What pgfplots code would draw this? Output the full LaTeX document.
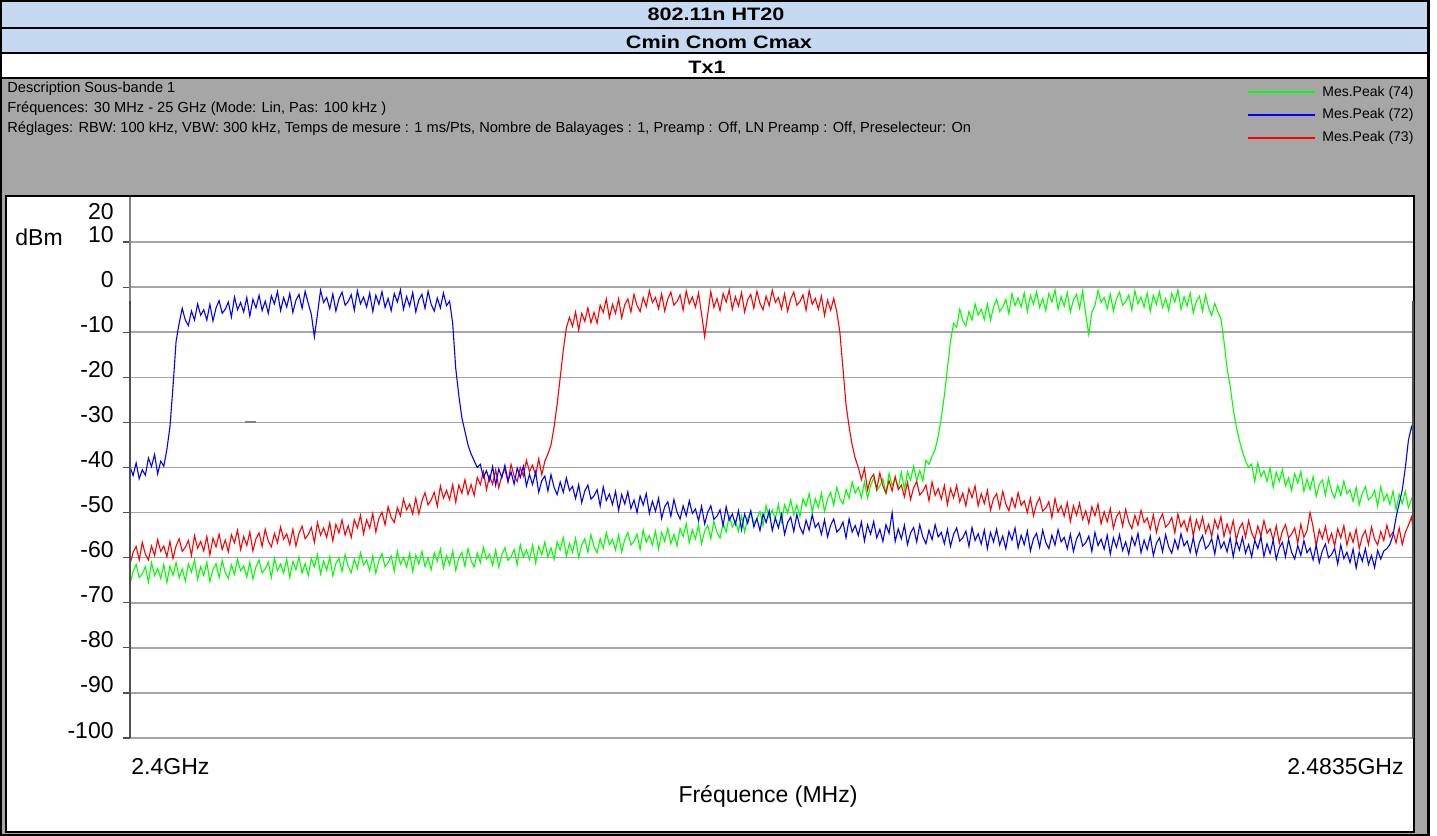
\documentclass[border=0pt]{standalone}
\usepackage{pgfplots}
\pgfplotsset{compat=1.18}
\usepackage{pgfplotstable}
\usepackage{graphicx}
\usepackage{fontspec}
\setmainfont{Liberation Sans}
\definecolor{hdrblue}{RGB}{197,217,241}
\definecolor{panelgray}{RGB}{166,166,166}
\definecolor{gridgray}{RGB}{165,165,165}
\definecolor{axisgray}{RGB}{128,128,128}
\definecolor{tickgray}{RGB}{80,80,80}
\definecolor{cgreen}{RGB}{0,255,0}
\definecolor{cblue}{RGB}{0,0,255}
\definecolor{cred}{RGB}{255,0,0}
\pgfplotstableread{
d b r g
0.0 -39.8 -61.5 -65.8
0.2 -41.8 -58.8 -63.1
0.4 -39 -57.5 -61.5
0.6 -42.5 -60.5 -64.4
0.8 -40.5 -56.6 -63.6
1.0 -41.7 -59.2 -62.0
1.2 -37.9 -60.5 -65.4
1.4 -39.8 -57.4 -61.1
1.6 -37.1 -59.5 -64.0
1.8 -41.4 -56.0 -62.4
2.0 -38.6 -58.6 -64.6
2.2 -39.7 -57.4 -61.5
2.4 -36 -59.8 -65.5
2.6 -31 -56.4 -61.9
2.8 -22 -60.2 -63.9
3.0 -12 -57.4 -61.1
3.2 -8 -55.8 -64.5
3.4 -4.7 -58.6 -62.5
3.6 -7.3 -57.7 -65.2
3.8 -8.5 -56.2 -61.4
4.0 -5.3 -59.5 -63.2
4.2 -7.3 -55.1 -60.5
4.4 -3.7 -57.9 -64.8
4.6 -6.2 -56.4 -62.0
4.8 -5.0 -58.5 -64.0
5.0 -7.3 -55.3 -61.0
5.2 -3.8 -59.4 -65.3
5.4 -7.5 -55.7 -62.6
5.6 -4.6 -57.6 -61.3
5.8 -3.0 -54.8 -64.4
6.0 -5.8 -58.2 -60.6
6.2 -4.9 -56.1 -63.3
6.4 -3.3 -58.7 -64.6
6.6 -6.6 -54.9 -61.6
6.8 -2.2 -56.7 -63.7
7.0 -5.0 -53.9 -60.3
7.2 -3.4 -58.2 -62.9
7.4 -5.5 -55.3 -61.8
7.6 -2.3 -57.3 -64.3
7.8 -6.4 -54.3 -61.0
8.0 -2.7 -58.5 -64.7
8.2 -4.6 -55.8 -62.0
8.4 -1.8 -54.5 -60.5
8.6 -5.2 -57.5 -63.4
8.8 -3.1 -53.7 -62.5
9.0 -5.8 -56.3 -61.0
9.2 -1.9 -57.6 -64.4
9.4 -3.7 -54.6 -60.1
9.6 -1.0 -56.7 -62.9
9.8 -5.2 -53.2 -61.4
10.0 -2.3 -55.9 -63.4
10.2 -4.4 -54.7 -60.3
10.4 -1.4 -57.1 -64.4
10.6 -5.6 -53.7 -60.8
10.8 -2.9 -57.4 -62.7
11.0 -1.6 -54.6 -59.9
11.2 -4.7 -53.0 -63.4
11.4 -0.9 -55.8 -61.3
11.6 -3.6 -54.9 -64.0
11.8 -6 -53.3 -60.2
12.0 -11 -56.6 -62.0
12.2 -6 -52.2 -59.3
12.4 -0.7 -55.0 -63.6
12.6 -3.4 -53.4 -60.7
12.8 -2.3 -55.5 -62.8
13.0 -4.8 -52.3 -59.8
13.2 -1.5 -56.3 -64.0
13.4 -5.3 -52.6 -61.3
13.6 -2.6 -54.5 -60.1
13.8 -1.1 -51.6 -63.1
14.0 -4.0 -55.0 -59.3
14.2 -3.2 -52.9 -62.0
14.4 -1.7 -55.5 -63.3
14.6 -5.1 -51.6 -60.3
14.8 -0.8 -53.4 -62.4
15.0 -3.7 -50.6 -58.9
15.2 -2.2 -54.7 -61.6
15.4 -4.4 -51.6 -60.5
15.6 -1.3 -53.5 -62.9
15.8 -5.4 -50.2 -59.6
16.0 -1.8 -54.3 -63.4
16.2 -3.8 -51.3 -60.6
16.4 -1.0 -49.9 -59.1
16.6 -4.5 -52.7 -62.0
16.8 -2.5 -48.7 -61.1
17.0 -5.2 -51.1 -59.6
17.2 -1.4 -52.2 -63.0
17.4 -3.3 -48.9 -58.6
17.6 -0.6 -50.7 -61.5
17.8 -4.9 -47.0 -60.0
18.0 -2.1 -49.4 -62.1
18.2 -4.2 -48.1 -59.0
18.4 -1.2 -50.3 -63.1
18.6 -5.5 -46.8 -59.4
18.8 -2.8 -50.3 -61.4
19.0 -1.6 -47.4 -58.6
19.2 -4.7 -45.6 -62.0
19.4 -0.9 -48.3 -60.0
19.6 -3.8 -47.2 -62.7
19.8 -5.3 -45.5 -58.9
20.0 -2.4 -48.6 -60.8
20.2 -4.6 -44.1 -58.1
20.4 -1.3 -46.8 -62.3
20.6 -4.1 -45.1 -59.5
20.8 -3.1 -47.1 -61.6
21.0 -8 -43.8 -58.5
21.2 -18 -47.7 -62.8
21.4 -24 -43.9 -60.1
21.6 -29 -45.7 -58.8
21.8 -32 -42.7 -61.9
22.0 -35 -46.0 -58.0
22.2 -37 -43.8 -60.7
22.4 -38.5 -46.2 -62.1
22.6 -40 -42.2 -59.0
22.8 -39.3 -43.8 -61.1
23.0 -42.2 -40.9 -57.7
23.2 -40.7 -44.9 -60.3
23.4 -42.9 -41.9 -59.2
23.6 -39.8 -43.7 -61.7
23.8 -43.9 -40.5 -58.3
24.0 -40.3 -44.5 -62.1
24.2 -42.3 -41.7 -59.4
24.4 -39.5 -40.3 -57.8
24.6 -43.0 -43.3 -60.6
24.8 -41.0 -39.3 -59.8
25.0 -43.7 -41.9 -58.2
25.2 -40.1 -43.1 -61.5
25.4 -42.2 -40.0 -57.1
25.6 -39.7 -41.9 -59.9
25.8 -44.1 -38.4 -58.3
26.0 -41.5 -40.9 -60.4
26.2 -43.8 -39.5 -57.2
26.4 -41.0 -41.7 -61.2
26.6 -45.5 -38.1 -57.5
26.8 -42.9 -41.6 -59.4
27.0 -41.9 -38.6 -56.5
27.2 -45.2 -37 -59.9
27.4 -41.6 -35 -57.8
27.6 -44.4 -31 -60.4
27.8 -46.0 -26 -56.5
28.0 -43.2 -20 -58.3
28.2 -45.5 -14 -55.5
28.4 -42.3 -9 -59.7
28.6 -45.1 -6.7 -56.8
28.8 -44.2 -8.7 -58.8
29.0 -46.9 -5.5 -55.7
29.2 -43.8 -9.5 -59.9
29.4 -47.8 -5.8 -57.1
29.6 -45.2 -7.6 -55.8
29.8 -43.9 -4.6 -58.8
30.0 -47.0 -7.9 -54.9
30.2 -46.3 -5.6 -57.6
30.4 -44.9 -8.0 -58.9
30.6 -48.5 -4.0 -55.8
30.8 -44.3 -5.6 -57.9
31.0 -47.3 -2.6 -54.4
31.2 -45.9 -6.8 -57.1
31.4 -48.2 -3.8 -55.9
31.6 -45.3 -5.8 -58.3
31.8 -49.5 -2.6 -55.0
32.0 -46.0 -6.8 -58.7
32.2 -48.1 -3.9 -56.0
32.4 -45.4 -2.6 -54.4
32.6 -49.1 -5.5 -57.2
32.8 -47.2 -1.6 -56.4
33.0 -50.0 -4.1 -54.8
33.2 -46.3 -5.4 -58.2
33.4 -48.3 -2.3 -53.8
33.6 -45.8 -4.3 -56.6
33.8 -50.2 -0.8 -55.1
34.0 -47.5 -3.4 -57.2
34.2 -49.7 -2.3 -54.1
34.4 -46.8 -4.8 -58.1
34.6 -51.3 -1.5 -54.4
34.8 -48.7 -5.3 -56.4
35.0 -47.6 -2.6 -53.5
35.2 -50.8 -1.1 -56.9
35.4 -47.1 -4.0 -54.8
35.6 -49.9 -3.2 -57.4
35.8 -51.4 -1.7 -53.5
36.0 -48.5 -5.1 -55.3
36.2 -50.7 -0.8 -52.5
36.4 -47.4 -3.7 -56.7
36.6 -50.2 -2.2 -53.8
36.8 -49.2 -4.4 -55.8
37.0 -51.8 -1.3 -52.7
37.2 -48.6 -6 -56.9
37.4 -52.5 -11 -54.1
37.6 -49.9 -6 -52.8
37.8 -48.5 -1.0 -55.8
38.0 -51.5 -4.5 -51.9
38.2 -50.8 -2.5 -54.4
38.4 -49.4 -5.2 -55.6
38.6 -52.9 -1.4 -52.4
38.8 -48.7 -3.3 -54.3
39.0 -51.7 -0.6 -50.7
39.2 -50.3 -4.9 -53.2
39.4 -52.6 -2.1 -51.9
39.6 -49.6 -4.2 -54.2
39.8 -53.8 -1.2 -50.7
40.0 -50.3 -5.5 -54.3
40.2 -52.4 -2.8 -51.4
40.4 -49.6 -1.6 -49.7
40.6 -53.2 -4.7 -52.4
40.8 -51.3 -0.9 -51.4
41.0 -54.0 -3.6 -49.7
41.2 -50.3 -5.0 -52.9
41.4 -52.2 -2.0 -48.4
41.6 -49.6 -4.1 -51.1
41.8 -54.0 -0.7 -49.4
42.0 -51.2 -3.4 -51.4
42.2 -53.4 -2.3 -48.2
42.4 -50.4 -4.8 -52.1
42.6 -54.8 -1.5 -48.3
42.8 -52.2 -5.3 -50.1
43.0 -51.0 -2.6 -47.2
43.2 -54.2 -1.1 -50.5
43.4 -50.4 -4.0 -48.3
43.6 -53.2 -3.2 -50.9
43.8 -54.7 -1.7 -46.9
44.0 -51.7 -5.1 -48.6
44.2 -53.9 -0.8 -45.8
44.4 -50.5 -3.8 -49.9
44.6 -53.3 -2.5 -46.9
44.8 -52.3 -4.9 -48.9
45.0 -54.8 -2.0 -45.7
45.2 -51.6 -6.3 -49.8
45.4 -55.4 -2.9 -46.9
45.6 -52.8 -5.1 -45.5
45.8 -51.4 -2.5 -48.4
46.0 -54.3 -5.5 -44.4
46.2 -53.6 -10 -46.9
46.4 -52.1 -18 -48.1
46.6 -55.6 -26 -44.9
46.8 -51.4 -31 -46.8
47.0 -54.3 -35 -43.2
47.2 -52.9 -38 -45.7
47.4 -55.1 -40 -44.4
47.6 -52.1 -42.7 -46.7
47.8 -56.3 -40.2 -43.2
48.0 -52.7 -45.0 -46.8
48.2 -54.8 -42.5 -44.0
48.4 -52.0 -41.5 -42.3
48.6 -55.6 -44.8 -45.1
48.8 -53.7 -41.2 -44.1
49.0 -56.4 -44.1 -42.5
49.2 -52.7 -45.7 -45.7
49.4 -54.6 -42.9 -41.3
49.6 -50.0 -45.2 -44.0
49.8 -56.4 -42.0 -42.4
50.0 -53.6 -44.9 -44.4
50.2 -55.8 -43.9 -41.1
50.4 -52.8 -46.5 -44.9
50.6 -57.1 -43.3 -41.0
50.8 -54.5 -47.1 -42.8
51.0 -53.3 -44.5 -39.7
51.2 -56.5 -43.1 -42.9
51.4 -52.7 -46.1 -40.7
51.6 -55.4 -45.3 -43.0
51.8 -56.9 -43.9 -38.4
52.0 -53.9 -47.4 -39.3
52.2 -56.0 -43.2 -37.5
52.4 -52.7 -46.2 -36
52.6 -55.4 -44.7 -33
52.8 -54.4 -47.0 -29
53.0 -56.9 -44.0 -24
53.2 -53.7 -48.2 -18
53.4 -57.5 -44.7 -12
53.6 -54.8 -46.7 -8
53.8 -53.4 -44.0 -8.9
54.0 -56.3 -47.6 -4.9
54.2 -55.6 -45.7 -7.4
54.4 -54.1 -48.5 -8.6
54.6 -57.5 -44.7 -5.4
54.8 -53.3 -46.7 -7.3
55.0 -56.2 -44.1 -3.7
55.2 -54.7 -48.5 -6.2
55.4 -57.0 -45.8 -4.9
55.6 -53.9 -48.0 -7.2
55.8 -58.0 -45.1 -3.7
56.0 -54.4 -49.5 -7.3
56.2 -56.5 -46.9 -4.4
56.4 -53.7 -45.8 -2.7
56.6 -57.2 -49.0 -5.4
56.8 -55.2 -45.3 -4.4
57.0 -58.0 -48.1 -2.7
57.2 -54.2 -49.6 -5.9
57.4 -56.1 -46.7 -1.4
57.6 -53.4 -48.9 -4.1
57.8 -57.8 -45.6 -2.4
58.0 -55.0 -48.4 -4.4
58.2 -57.1 -47.4 -1.3
58.4 -54.1 -50.0 -5.4
58.6 -58.5 -46.8 -1.8
58.8 -55.8 -50.7 -3.8
59.0 -54.6 -48.1 -1.0
59.2 -57.7 -46.7 -4.5
59.4 -53.9 -49.7 -2.5
59.6 -56.6 -49.0 -5.2
59.8 -58.0 -47.6 -1.4
60.0 -55.0 -51.1 -3.3
60.2 -57.2 -46.9 -0.6
60.4 -53.8 -49.9 -4.9
60.6 -56.5 -48.5 -2.1
60.8 -55.5 -50.8 -4.2
61.0 -58.0 -47.8 -1.2
61.2 -54.8 -52.0 -5.5
61.4 -58.6 -48.5 -2.8
61.6 -55.9 -50.6 -1.6
61.8 -54.5 -47.9 -4.7
62.0 -57.4 -51.5 -0.9
62.2 -56.7 -49.6 -6
62.4 -55.2 -52.4 -10.5
62.6 -58.6 -48.7 -5.5
62.8 -54.4 -50.7 -4.1
63.0 -57.3 -48.1 -0.7
63.2 -55.9 -52.5 -3.4
63.4 -58.1 -49.8 -2.3
63.6 -55.0 -52.0 -4.8
63.8 -59.2 -49.1 -1.5
64.0 -55.6 -53.5 -5.3
64.2 -57.7 -50.9 -2.6
64.4 -54.9 -49.8 -1.1
64.6 -58.4 -53.0 -4.0
64.8 -56.5 -49.3 -3.2
65.0 -59.2 -52.1 -1.7
65.2 -55.4 -53.6 -5.1
65.4 -57.3 -50.6 -0.8
65.6 -54.6 -52.8 -3.7
65.8 -58.9 -49.5 -2.2
66.0 -56.1 -52.2 -4.4
66.2 -58.2 -51.2 -1.3
66.4 -55.2 -53.7 -5.4
66.6 -59.5 -50.5 -1.8
66.8 -56.8 -54.4 -3.8
67.0 -55.6 -51.7 -1.0
67.2 -58.7 -50.3 -4.5
67.4 -54.9 -53.2 -2.5
67.6 -57.6 -52.5 -5.2
67.8 -59.0 -51.1 -1.4
68.0 -56.0 -54.5 -3.3
68.2 -58.1 -50.3 -0.6
68.4 -54.7 -53.2 -4.9
68.6 -57.4 -51.8 -2.1
68.8 -56.3 -54.1 -4.2
69.0 -58.8 -51.0 -1.3
69.2 -55.5 -55.2 -5.7
69.4 -59.3 -51.6 -3.1
69.6 -56.6 -53.7 -2.0
69.8 -55.1 -51.0 -5.3
70.0 -58.0 -54.5 -1.7
70.2 -57.3 -52.6 -4.6
70.4 -55.8 -55.3 -6.3
70.6 -59.2 -51.6 -3.6
70.8 -55.0 -53.6 -5.5
71.0 -57.9 -50.9 -7
71.2 -56.5 -55.3 -12
71.4 -58.7 -52.5 -18
71.6 -55.6 -54.7 -22
71.8 -59.8 -51.8 -27
72.0 -56.2 -56.1 -31
72.2 -58.3 -53.5 -34
72.4 -55.5 -52.3 -36.5
72.6 -59.0 -55.5 -38.5
72.8 -57.1 -51.8 -40
73.0 -59.8 -54.5 -39.2
73.2 -56.1 -56.0 -43.1
73.4 -58.0 -53.0 -39.0
73.6 -55.3 -55.2 -42.0
73.8 -59.7 -51.8 -40.7
74.0 -56.9 -54.6 -43.1
74.2 -59.1 -53.6 -40.1
74.4 -56.1 -56.1 -44.4
74.6 -60.4 -52.9 -41.0
74.8 -57.8 -56.8 -43.1
75.0 -56.6 -54.1 -40.5
75.2 -59.8 -52.7 -44.1
75.4 -56.0 -55.6 -42.3
75.6 -58.8 -54.8 -45.1
75.8 -60.3 -53.4 -41.4
76.0 -57.3 -56.8 -43.4
76.2 -59.5 -52.6 -40.9
76.4 -56.2 -55.5 -45.3
76.6 -58.9 -54.0 -42.6
76.8 -57.9 -50.0 -44.9
77.0 -60.5 -53.2 -42.0
77.2 -57.2 -57.4 -46.4
77.4 -61.1 -53.8 -43.8
77.6 -58.5 -55.8 -42.8
77.8 -57.0 -53.1 -46.1
78.0 -60.0 -56.6 -42.4
78.2 -59.3 -54.6 -45.3
78.4 -57.9 -57.4 -46.8
78.6 -61.4 -53.6 -44.0
78.8 -57.2 -55.6 -46.2
79.0 -60.2 -52.9 -43.0
79.2 -58.8 -57.2 -45.8
79.4 -61.1 -54.5 -44.9
79.6 -58.1 -56.6 -47.5
79.8 -62.3 -53.7 -44.4
80.0 -58.8 -58.0 -48.3
80.2 -60.8 -55.3 -45.7
80.4 -58.0 -54.0 -44.3
80.6 -61.5 -57.1 -47.2
80.8 -59.5 -53.2 -46.5
81.0 -62.2 -55.9 -45.1
81.2 -58.4 -57.2 -48.6
81.4 -60.3 -54.2 -44.3
81.6 -58.5 -56.2 -47.3
81.8 -58 -52.8 -45.9
82.0 -57 -55.4 -48.2
82.2 -55 -54.3 -45.2
82.4 -51 -56.7 -49.4
82.6 -48 -53.4 -45.9
82.8 -45 -57.1 -48.0
83.0 -40 -54.4 -45.3
83.2 -34 -52.8 -48.9
83.4 -31 -51 -47.0
83.5 -32 -53.5 -46.5
}\spectab

\begin{document}
\begin{tikzpicture}
\path[use as bounding box] (0,0) rectangle (718.5pt,-418pt);
\begin{scope}[x=0.5pt,y=-0.5pt]
\fill[white] (0,0) rectangle (1437,836);
\fill[panelgray] (1,78) rectangle (1429,836);
\fill[hdrblue] (1,1) rectangle (1429,52);
\fill[white] (1,52) rectangle (1429,78);
\fill[white] (6,196) rectangle (1414,832);
\draw[black, line width=0.6pt] (6,196) rectangle (1414,832);
\draw[black, line width=1pt] (1,27.5) -- (1429,27.5);
\draw[black, line width=1pt] (1,52.5) -- (1429,52.5);
\draw[black, line width=1pt] (1,78) -- (1429,78);
\draw[black, line width=1.2pt] (1.2,1.2) rectangle (1428.5,835);
% header
\node[anchor=base, inner sep=0pt, font=\bfseries\fontsize{9}{10}\selectfont] at (716,20) {\scalebox{1.2}[1]{802.11n HT20}};
\node[anchor=base, inner sep=0pt, font=\bfseries\fontsize{9}{10}\selectfont] at (719,48) {\scalebox{1.2}[1]{Cmin Cnom Cmax}};
\node[anchor=base, inner sep=0pt, font=\bfseries\fontsize{9}{10}\selectfont] at (707,73.5) {\scalebox{1.2}[1]{Tx1}};
% info
\node[anchor=base west, inner sep=0pt, font=\fontsize{7.3}{8}\selectfont] at (7,92) {Description Sous-bande 1};
\node[anchor=base west, inner sep=0pt, font=\fontsize{7.3}{8}\selectfont] at (7,112) {Fréquences: 30 MHz - 25 GHz (Mode: Lin, Pas: 100 kHz )};
\node[anchor=base west, inner sep=0pt, font=\fontsize{7.3}{8}\selectfont] at (7,132) {Réglages: RBW: 100 kHz, VBW: 300 kHz, Temps de mesure : 1 ms/Pts, Nombre de Balayages : 1, Preamp : Off, LN Preamp : Off, Preselecteur: On};
% legend
\draw[cgreen, line width=0.6pt] (1248,92) -- (1315,92);
\draw[cblue, line width=0.6pt] (1248,115) -- (1315,115);
\draw[cred, line width=0.6pt] (1248,138) -- (1315,138);
\node[anchor=base west, inner sep=0pt, font=\fontsize{7}{8}\selectfont] at (1322,96) {Mes.Peak (74)};
\node[anchor=base west, inner sep=0pt, font=\fontsize{7}{8}\selectfont] at (1322,118.5) {Mes.Peak (72)};
\node[anchor=base west, inner sep=0pt, font=\fontsize{7}{8}\selectfont] at (1322,141) {Mes.Peak (73)};
% axis texts
\node[anchor=base west, inner sep=0pt, font=\fontsize{11.5}{13}\selectfont] at (15,245) {dBm};
\node[anchor=base west, inner sep=0pt, font=\fontsize{11.5}{13}\selectfont] at (131,774) {2.4GHz};
\node[anchor=base east, inner sep=0pt, font=\fontsize{11.5}{13}\selectfont] at (1404,774) {2.4835GHz};
\node[anchor=base, inner sep=0pt, font=\fontsize{11.5}{13}\selectfont] at (768,802) {Fréquence (MHz)};
\end{scope}
\begin{axis}[
  at={(65pt,-369pt)}, anchor=south west,
  scale only axis, width=641.5pt, height=270.5pt,
  xmin=0, xmax=83.5, ymin=-100, ymax=20,
  axis x line=none, axis y line*=left,
  y axis line style={draw=axisgray, line width=1pt},
  ytick={-100,-90,-80,-70,-60,-50,-40,-30,-20,-10,0,10},
  yticklabels={-100,-90,-80,-70,-60,-50,-40,-30,-20,-10,0,10},
  ymajorgrids, grid style={gridgray, line width=0.8pt},
  tick align=outside, major tick length=3.5pt,
  ytick style={tickgray, line width=0.6pt},
  yticklabel style={font=\fontsize{11.5}{13}\selectfont, anchor=base east, inner sep=0pt, xshift=-4.5pt},
  extra y ticks={20}, extra y tick labels={20},
  extra y tick style={grid=none, major tick length=0pt, yticklabel style={yshift=-11pt, xshift=-3.5pt}},
  clip=false,
]
\addplot[cgreen, line width=0.55pt] table[x=d, y=g] {\spectab};
\addplot[cred, line width=0.55pt] table[x=d, y=r] {\spectab};
\addplot[cblue, line width=0.55pt] table[x=d, y=b] {\spectab};
\draw[gray, line width=1pt] (axis cs:7.5,-30) -- (axis cs:8.2,-30);
\draw[tickgray, line width=0.6pt] (axis cs:0,-100) -- ++(0,-7pt);
\draw[tickgray, line width=0.6pt] (axis cs:83.5,-100) -- ++(0,-7pt);
\end{axis}
\end{tikzpicture}
\end{document}
